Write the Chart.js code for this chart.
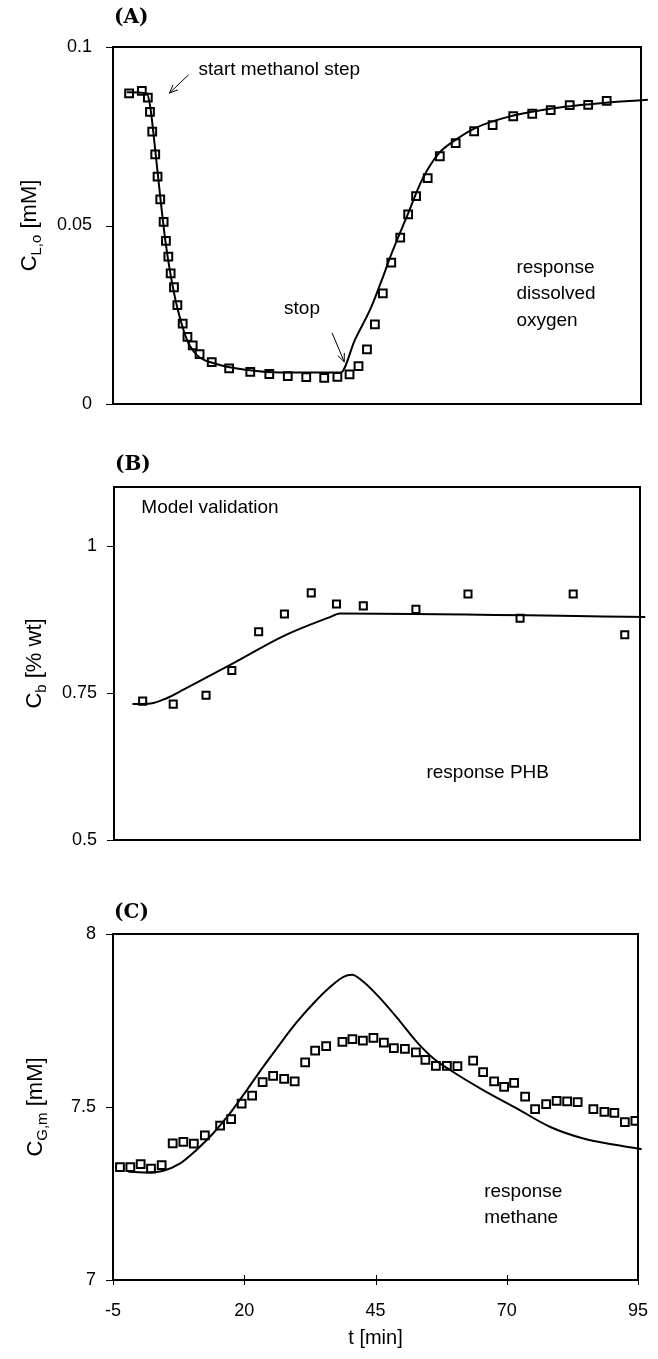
<!DOCTYPE html>
<html lang="en">
<head>
    <meta charset="UTF-8">
    <title>Methanol step response</title>
    <style>
      body { margin: 0; background: #fff; }
      .panel { position: absolute; left: 0; width: 658px; }
    </style>
</head>
<body>
  <div class="panel" style="top:0"><canvas id="chartA" width="658" height="430"></canvas></div>
  <div class="panel" style="top:430px"><canvas id="chartB" width="658" height="430"></canvas></div>
  <div class="panel" style="top:860px"><canvas id="chartC" width="658" height="499"></canvas></div>

  <script src="https://cdn.jsdelivr.net/npm/chart.js"></script>
  <script>
    // shared time axis
    const tTicks = [-5, 20, 45, 70, 95];

    // (A) dissolved oxygen, measured
    const oxyT = [-1.95, 0.46, 1.6, 2.0, 2.43, 3.0, 3.44, 3.95, 4.59, 5.03, 5.48, 5.92, 6.55, 7.19, 8.2, 9.1, 10.1, 11.4, 13.7, 17.0,
                  21.0, 24.6, 28.1, 31.6, 35.0, 37.5, 39.8, 41.5, 43.1, 44.6, 46.1, 47.7, 49.4, 50.9, 52.4, 54.6, 56.9, 59.9, 63.4, 66.9,
                  70.8, 74.4, 77.9, 81.5, 85.0, 88.5];
    const oxyMeas = [0.0870, 0.0877, 0.0858, 0.0818, 0.0763, 0.0699, 0.0637, 0.0573, 0.0510, 0.0457, 0.0413, 0.0366, 0.0327, 0.0277, 0.0225, 0.0188, 0.0164, 0.0140, 0.0117, 0.0100,
                     0.0090, 0.0084, 0.0078, 0.0075, 0.0073, 0.0076, 0.0083, 0.0106, 0.0153, 0.0223, 0.0310, 0.0396, 0.0466, 0.0531, 0.0582, 0.0633, 0.0694, 0.0731, 0.0764, 0.0781,
                     0.0806, 0.0813, 0.0823, 0.0837, 0.0838, 0.0849];
    // (A) model
    const oxyModelT = [-2.4, 1.4, 2.05, 3.0, 3.95, 4.9, 5.86, 7.13, 9.03, 10.9, 14.1, 20.5, 26.8, 38.1, 40.8, 43.95, 45.9, 47.8, 50.9, 53.5,
                       56.7, 59.8, 63.6, 70.0, 78.8, 88.3, 96.3];
    const oxyModel = [0.0873, 0.0870, 0.0833, 0.0711, 0.0580, 0.0459, 0.0366, 0.0273, 0.0179, 0.0137, 0.0114, 0.0095, 0.0088, 0.0088, 0.0179, 0.0273, 0.0347, 0.0423, 0.0534, 0.0627,
                      0.0702, 0.0739, 0.0773, 0.0805, 0.0829, 0.0844, 0.0852];
    const oxyTicks = [0, 0.05, 0.1];

    // (B) PHB
    const phbT = [0.45, 6.26, 12.5, 17.4, 22.5, 27.4, 32.5, 37.3, 42.4, 52.4, 62.3, 72.2, 82.3, 92.1];
    const phbMeas = [0.736, 0.731, 0.746, 0.788, 0.854, 0.884, 0.920, 0.901, 0.898, 0.892, 0.918, 0.877, 0.918, 0.849];
    const phbModelT = [-1.5, 2.0, 5.0, 8.3, 17.8, 27.3, 35.8, 38.0, 96.0];
    const phbModel = [0.731, 0.732, 0.741, 0.756, 0.801, 0.847, 0.878, 0.885, 0.879];
    const phbTicks = [0.5, 0.75, 1];

    // (C) methane
    const ch4T = [-3.67, -1.7, 0.27, 2.24, 4.27, 6.37, 8.4, 10.4, 12.5, 15.4, 17.5, 19.5, 21.5, 23.5, 25.5, 27.6, 29.6, 31.6, 33.5, 35.6,
                  38.7, 40.6, 42.6, 44.6, 46.6, 48.5, 50.6, 52.7, 54.5, 56.5, 58.6, 60.6, 63.6, 65.5, 67.6, 69.5, 71.4, 73.5, 75.4, 77.5,
                  79.5, 81.5, 83.5, 86.5, 88.6, 90.5, 92.5, 94.5];
    const ch4Meas = [7.326, 7.326, 7.335, 7.322, 7.332, 7.395, 7.399, 7.394, 7.418, 7.446, 7.465, 7.510, 7.533, 7.572, 7.590, 7.581, 7.574, 7.629, 7.663, 7.676,
                     7.688, 7.696, 7.692, 7.700, 7.686, 7.670, 7.668, 7.658, 7.636, 7.619, 7.619, 7.618, 7.634, 7.601, 7.574, 7.558, 7.570, 7.530, 7.494, 7.508,
                     7.518, 7.516, 7.514, 7.494, 7.486, 7.483, 7.456, 7.460];
    const ch4ModelT = [-2.1, 1.4, 4.6, 7.8, 10.9, 14.1, 17.3, 20.5, 23.6, 26.8, 30.0, 33.2, 36.3, 38.9, 40.5, 42.7, 46.5, 49.7, 52.8, 56.0,
                       59.2, 65.5, 71.9, 78.2, 84.6, 90.9, 95.7];
    const ch4Model = [7.313, 7.311, 7.316, 7.337, 7.376, 7.424, 7.482, 7.549, 7.616, 7.682, 7.745, 7.800, 7.846, 7.876, 7.882, 7.862, 7.804, 7.747, 7.689, 7.641,
                      7.607, 7.549, 7.496, 7.443, 7.409, 7.390, 7.378];
    const ch4Ticks = [7, 7.5, 8];

    const SANS = '"Liberation Sans", Arial, sans-serif';

    function pts(xs, ys) {
      return xs.map((x, i) => ({ x, y: ys[i] }));
    }

    // frame, tick marks, axis titles and notes
    const decoPlugin = {
      id: 'deco',
      afterDraw(chart, args, o) {
        const { ctx, chartArea: a } = chart;
        const sx = chart.scales.x, sy = chart.scales.y;
        ctx.save();
        ctx.strokeStyle = '#000';
        ctx.fillStyle = '#000';
        ctx.lineWidth = 2;
        ctx.strokeRect(a.left, a.top, a.right - a.left, a.bottom - a.top);

        ctx.lineWidth = 1;
        ctx.beginPath();
        sy.ticks.forEach(t => {
          const py = Math.round(sy.getPixelForValue(t.value)) + 0.5;
          ctx.moveTo(a.left - 7, py);
          ctx.lineTo(a.left, py);
        });
        if (o.xMarks) {
          sx.ticks.forEach(t => {
            const px = Math.round(sx.getPixelForValue(t.value)) + 0.5;
            ctx.moveTo(px, a.bottom - 5);
            ctx.lineTo(px, a.bottom + 5);
          });
        }
        ctx.stroke();

        // panel letter
        ctx.font = 'bold 20px "DejaVu Serif", serif';
        ctx.textAlign = 'left';
        ctx.textBaseline = 'middle';
        ctx.fillText(o.panel, a.left + 1, o.panelY);

        // y title with subscript
        const parts = [
          { s: o.ylab[0], f: '22px ' + SANS, dy: 0 },
          { s: o.ylab[1], f: '15px ' + SANS, dy: 5 },
          { s: o.ylab[2], f: '22px ' + SANS, dy: 0 }
        ];
        let total = 0;
        parts.forEach(p => { ctx.font = p.f; p.w = ctx.measureText(p.s).width; total += p.w; });
        ctx.translate(o.ylabX, (a.top + a.bottom) / 2);
        ctx.rotate(-Math.PI / 2);
        ctx.textBaseline = 'alphabetic';
        let cx = -total / 2;
        parts.forEach(p => { ctx.font = p.f; ctx.fillText(p.s, cx, 8 + p.dy); cx += p.w; });
        ctx.setTransform(1, 0, 0, 1, 0, 0);

        if (o.xTitle) {
          ctx.font = '20px ' + SANS;
          ctx.textAlign = 'center';
          ctx.textBaseline = 'middle';
          ctx.fillText(o.xTitle, (a.left + a.right) / 2, o.xTitleY);
        }

        ctx.font = '19px ' + SANS;
        ctx.textBaseline = 'middle';
        (o.notes || []).forEach(n => {
          ctx.textAlign = n.align || 'left';
          ctx.fillText(n.text, sx.getPixelForValue(n.t), sy.getPixelForValue(n.v));
        });

        ctx.lineWidth = 1;
        (o.arrows || []).forEach(ar => {
          const x1 = sx.getPixelForValue(ar[0]), y1 = sy.getPixelForValue(ar[1]);
          const x2 = sx.getPixelForValue(ar[2]), y2 = sy.getPixelForValue(ar[3]);
          const ang = Math.atan2(y2 - y1, x2 - x1);
          ctx.beginPath();
          ctx.moveTo(x1, y1);
          ctx.lineTo(x2, y2);
          ctx.moveTo(x2 - 9 * Math.cos(ang - 0.4), y2 - 9 * Math.sin(ang - 0.4));
          ctx.lineTo(x2, y2);
          ctx.lineTo(x2 - 9 * Math.cos(ang + 0.4), y2 - 9 * Math.sin(ang + 0.4));
          ctx.stroke();
        });
        ctx.restore();
      }
    };

    function makeChart(id, cfg) {
      const datasets = [
        {
          type: 'scatter',
          data: pts(cfg.measT, cfg.meas),
          pointStyle: 'rect',
          pointRadius: cfg.pointRadius,
          pointBorderWidth: 2,
          pointBorderColor: '#000',
          pointBackgroundColor: 'rgba(0,0,0,0)'
        },
        {
          type: 'line',
          data: pts(cfg.modelT, cfg.model),
          borderColor: '#000',
          borderWidth: 2,
          pointRadius: 0,
          cubicInterpolationMode: 'monotone',
          clip: { left: 0, top: 0, right: 8, bottom: 0 }
        }
      ];
      return new Chart(document.getElementById(id), {
        data: { datasets },
        plugins: [decoPlugin],
        options: {
          responsive: false,
          animation: false,
          devicePixelRatio: 1,
          events: [],
          layout: { padding: cfg.padding },
          plugins: {
            legend: { display: false },
            tooltip: { enabled: false },
            deco: cfg.deco
          },
          scales: {
            x: {
              type: 'linear',
              min: -5,
              max: 95,
              display: cfg.showX,
              afterBuildTicks: s => { s.ticks = tTicks.map(v => ({ value: v })); },
              afterFit: s => { s.height = cfg.xHeight || 0; s.paddingLeft = 0; s.paddingRight = 0; },
              grid: { display: false, drawTicks: false },
              border: { display: false },
              ticks: { color: '#000', padding: 20, maxRotation: 0, font: { family: SANS, size: 18 }, callback: v => String(v) }
            },
            y: {
              type: 'linear',
              min: cfg.yMin,
              max: cfg.yMax,
              afterBuildTicks: s => { s.ticks = cfg.yTicks.map(v => ({ value: v })); },
              afterFit: s => { s.width = cfg.yWidth; s.paddingTop = 0; s.paddingBottom = 0; },
              grid: { display: false, drawTicks: false },
              border: { display: false },
              ticks: { color: '#000', padding: cfg.yPad, font: { family: SANS, size: 18 }, callback: v => String(v) }
            }
          }
        }
      });
    }

    makeChart('chartA', {
      measT: oxyT, meas: oxyMeas, modelT: oxyModelT, model: oxyModel,
      yMin: 0, yMax: 0.1, yTicks: oxyTicks, yWidth: 113, yPad: 21, pointRadius: 5.5,
      showX: false, padding: { left: 0, right: 17, top: 47, bottom: 26 },
      deco: {
        panel: '(A)', panelY: 18, ylab: ['C', 'L,o', ' [mM]'], ylabX: 28,
        notes: [
          { text: 'start methanol step', t: 11.2, v: 0.0936 },
          { text: 'stop', t: 30.8, v: 0.0266, align: 'center' },
          { text: 'response', t: 71.4, v: 0.0381 },
          { text: 'dissolved', t: 71.4, v: 0.0308 },
          { text: 'oxygen', t: 71.4, v: 0.0232 }
        ],
        arrows: [[9.3, 0.0922, 5.7, 0.0871], [36.5, 0.0199, 38.8, 0.0118]]
      }
    });

    makeChart('chartB', {
      measT: phbT, meas: phbMeas, modelT: phbModelT, model: phbModel,
      yMin: 0.5, yMax: 1.1, yTicks: phbTicks, yWidth: 114, yPad: 17, pointRadius: 5,
      showX: false, padding: { left: 0, right: 18, top: 57, bottom: 20 },
      deco: {
        panel: '(B)', panelY: 35, ylab: ['C', 'b', ' [% wt]'], ylabX: 33,
        notes: [
          { text: 'Model validation', t: 0.2, v: 1.065 },
          { text: 'response PHB', t: 54.4, v: 0.614 }
        ]
      }
    });

    makeChart('chartC', {
      measT: ch4T, meas: ch4Meas, modelT: ch4ModelT, model: ch4Model,
      yMin: 7, yMax: 8, yTicks: ch4Ticks, yWidth: 113, yPad: 17, pointRadius: 5.5,
      showX: true, xHeight: 79, padding: { left: 0, right: 20, top: 74, bottom: 0 },
      deco: {
        panel: '(C)', panelY: 53, ylab: ['C', 'G,m', ' [mM]'], ylabX: 34, xMarks: true,
        xTitle: 't [min]', xTitleY: 478,
        notes: [
          { text: 'response', t: 65.7, v: 7.254 },
          { text: 'methane', t: 65.7, v: 7.179 }
        ]
      }
    });
  </script>
</body>
</html>
